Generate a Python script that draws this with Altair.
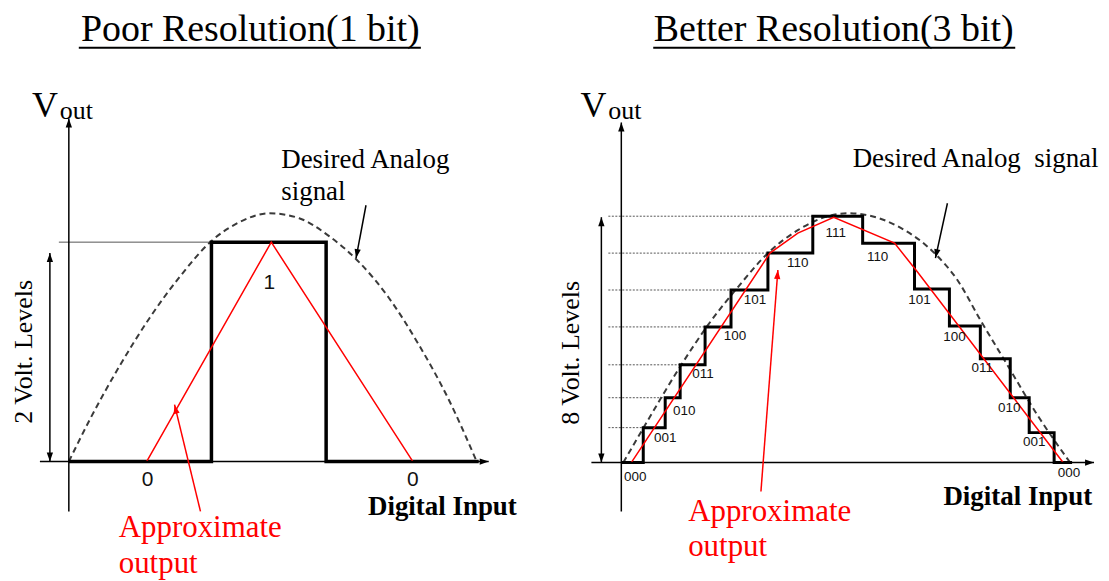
import altair as alt
import pandas as pd

SERIF = "Liberation Serif"
SANS = "Liberation Sans"
ARROW = "M0,0L-0.35,1L0.35,1Z"

# ------------------------------------------------------------------
# Left panel: poor resolution (1 bit). Units measured from the axis origin.
# ------------------------------------------------------------------
L_DOMAIN_X = [-61, 485]
L_DOMAIN_Y = [-119, 454]
L_SIGNAL_X = [0, 21, 51, 81, 111, 144, 171, 201, 231, 261, 291, 321, 351, 381, 409]
L_SIGNAL_Y = [0, 42, 96, 144, 185, 222, 240, 249, 244, 226, 200, 164, 117, 62, 0]
L_STEP_X = [0, 143, 143, 258, 258, 411]
L_STEP_Y = [0, 0, 220, 220, 0, 0]
L_APPROX_X = [78, 203, 345]
L_APPROX_Y = [0, 220, 0]
L_CODES = ["0", "1", "0"]
L_CODE_X = [79, 201, 345]
L_CODE_Y = [-19, 179, -19]

# ------------------------------------------------------------------
# Right panel: better resolution (3 bit)
# ------------------------------------------------------------------
R_DOMAIN_X = [-69, 478]
R_DOMAIN_Y = [-118, 455]
R_SIGNAL_X = [2, 27, 57, 87, 117, 147, 177, 207, 227, 247, 277, 314, 337, 360, 387, 417, 450]
R_SIGNAL_Y = [0, 43, 93, 138, 176, 210, 233, 247, 250, 248, 237, 210, 183, 143, 98, 48, 0]
R_STEP_X = [0, 22, 22, 44, 44, 59, 59, 84, 84, 110, 110, 147, 147, 192, 192, 242,
            242, 294, 294, 329, 329, 360, 360, 390, 390, 409, 409, 434, 434, 452]
R_STEP_Y = [0, 0, 35, 35, 65, 65, 98, 98, 136, 136, 173, 173, 210, 210, 247, 247,
            220, 220, 174, 174, 137, 137, 104, 104, 65, 65, 30, 30, 0, 0]
R_APPROX_X = [10, 149, 177, 213, 274, 297, 443]
R_APPROX_Y = [0, 210, 230, 246, 220, 191, 0]
R_LEVEL_Y = [35, 65, 98, 136, 173, 210, 247]
R_LEVEL_END = [22, 44, 59, 84, 110, 147, 192]
R_CODES = ["000", "001", "010", "011", "100", "101", "110", "111",
           "110", "101", "100", "011", "010", "001", "000"]
R_CODE_X = [14, 44, 63, 82, 114, 134, 177, 215, 257, 299, 334, 362, 389, 414, 449]
R_CODE_Y = [-15, 25, 52, 89, 127, 163, 200, 230, 206, 163, 126, 95, 55, 21, -10]

LEFT = dict(
    dx=L_DOMAIN_X, dy=L_DOMAIN_Y,
    signal=(L_SIGNAL_X, L_SIGNAL_Y), step=(L_STEP_X, L_STEP_Y), step_w=3.5,
    approx=(L_APPROX_X, L_APPROX_Y),
    black_rules=[(0, -50, 0, 344), (-29, 0, 421, 0), (-19, 0, -19, 209), (298, 257, 288, 204)],
    gray_rules=[(-10, 220, 143, 220)],
    dotted_rules=[],
    underline=(10, 415, 353, 415),
    red_rules=[(132, -50, 106, 57)],
    black_heads=[(0, 344, 0), (421, 0, 90), (-19, 209, 0), (-19, 0, 180), (288, 204, 190.7)],
    red_heads=[(106, 57, 346.9)],
    title=("Poor Resolution(1 bit)", 182, 422),
    v=(-37, 345), vsub=(-9, 343),
    ylabel=("2 Volt. Levels", -45, 110),
    desired=[("Desired Analog", 213, 294), ("signal", 213, 262)],
    digital=(300, -54),
    approx_text=[("Approximate", 50, -76), ("output", 50, -112)],
    codes=(L_CODES, L_CODE_X, L_CODE_Y), code_size=21,
)

RIGHT = dict(
    dx=R_DOMAIN_X, dy=R_DOMAIN_Y,
    signal=(R_SIGNAL_X, R_SIGNAL_Y), step=(R_STEP_X, R_STEP_Y), step_w=3,
    approx=(R_APPROX_X, R_APPROX_Y),
    black_rules=[(0, -49, 0, 341), (-30, 0, 474, 0), (-20, 0, -20, 246), (327, 260, 315, 205)],
    gray_rules=[],
    dotted_rules=[(-13, ly, le, ly) for ly, le in zip(R_LEVEL_Y, R_LEVEL_END)],
    underline=(32, 416, 395, 416),
    red_rules=[(140, -29, 157, 193)],
    black_heads=[(0, 341, 0), (474, 0, 90), (-20, 246, 0), (-20, 0, 180), (315, 205, 192.3)],
    red_heads=[(157, 193, 4.4)],
    title=("Better Resolution(3 bit)", 213, 423),
    v=(-41, 346), vsub=(-13, 344),
    ylabel=("8 Volt. Levels", -50, 110),
    desired=[("Desired Analog\u00a0 signal", 232, 296)],
    digital=(323, -43),
    approx_text=[("Approximate", 67, -59), ("output", 67, -94)],
    codes=(R_CODES, R_CODE_X, R_CODE_Y), code_size=13.5,
)


def panel(p, width):
    sx = alt.Scale(domain=p["dx"], nice=False, zero=False)
    sy = alt.Scale(domain=p["dy"], nice=False, zero=False)

    def E(**more):
        d = dict(x=alt.X("x:Q", scale=sx, axis=None), y=alt.Y("y:Q", scale=sy, axis=None))
        d.update(more)
        return d

    layers = []

    def rules(segs, **mk):
        if not segs:
            return
        df = pd.DataFrame(segs, columns=["x", "y", "x2", "y2"])
        layers.append(alt.Chart(df).mark_rule(**mk).encode(**E(x2="x2:Q", y2="y2:Q")))

    def line(xy, **mk):
        xs, ys = xy
        df = pd.DataFrame({"x": xs, "y": ys, "i": list(range(len(xs)))})
        layers.append(alt.Chart(df).mark_line(**mk).encode(**E(order="i:Q")))

    def heads(hs, color):
        df = pd.DataFrame(hs, columns=["x", "y", "a"])
        layers.append(alt.Chart(df).mark_point(shape=ARROW, filled=True, size=324, color=color,
                                               opacity=1, strokeWidth=0)
                      .encode(**E(angle=alt.Angle("a:Q", scale=None))))

    def texts(items, **mk):
        df = pd.DataFrame(items, columns=["t", "x", "y"])
        layers.append(alt.Chart(df).mark_text(**mk).encode(**E(text="t:N")))

    # guide lines
    rules(p["gray_rules"], color="#555555", strokeWidth=1)
    rules(p["dotted_rules"], color="#555555", strokeWidth=1, strokeDash=[2, 1.5])
    # desired analog signal (dashed)
    line(p["signal"], color="#3a3a3a", strokeWidth=2, strokeDash=[6, 4], interpolate="monotone")
    # quantised output
    line(p["step"], color="black", strokeWidth=p["step_w"], strokeJoin="miter")
    # approximate output
    line(p["approx"], color="#ff0000", strokeWidth=1.5)
    # axes and arrows
    rules(p["black_rules"], color="black", strokeWidth=1.5)
    rules([p["underline"]], color="black", strokeWidth=2)
    rules(p["red_rules"], color="#ff0000", strokeWidth=1.5)
    heads(p["black_heads"], "black")
    heads(p["red_heads"], "#ff0000")

    # texts
    texts([p["title"]], font=SERIF, fontSize=38, align="center", baseline="alphabetic", color="black")
    texts([("V",) + p["v"]], font=SERIF, fontSize=36, align="left", baseline="alphabetic", color="black")
    texts([("out",) + p["vsub"]], font=SERIF, fontSize=26, align="left", baseline="alphabetic", color="black")
    texts([p["ylabel"]], font=SERIF, fontSize=26, angle=270, align="center", baseline="middle", color="black")
    texts(p["desired"], font=SERIF, fontSize=27, align="left", baseline="alphabetic", color="black")
    texts([("Digital Input",) + p["digital"]], font=SERIF, fontSize=27, fontWeight="bold",
          align="left", baseline="alphabetic", color="black")
    texts(p["approx_text"], font=SERIF, fontSize=31, align="left", baseline="alphabetic", color="#ff0000")
    c, cx, cy = p["codes"]
    texts(list(zip(c, cx, cy)), font=SANS, fontSize=p["code_size"], align="center",
          baseline="middle", color="#111111")

    return alt.layer(*layers).properties(width=width, height=573)


chart = alt.hconcat(panel(LEFT, 546), panel(RIGHT, 547), spacing=0, bounds="flush",
                    padding=0).configure_view(stroke=None)

chart.save("out.html", embed_options={"renderer": "svg", "actions": False})
